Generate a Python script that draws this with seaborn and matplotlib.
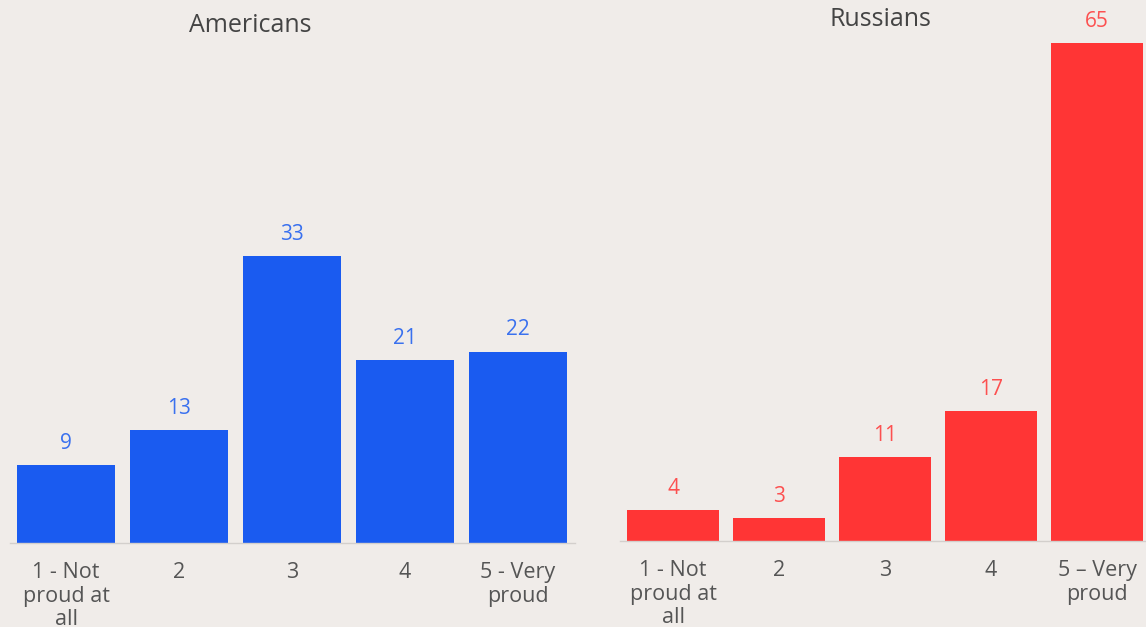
import matplotlib
matplotlib.use("Agg")
import matplotlib.pyplot as plt
import seaborn as sns
import pandas as pd

categories_us = ["1 - Not\nproud at\nall", "2", "3", "4", "5 - Very\nproud"]
categories_ru = ["1 - Not\nproud at\nall", "2", "3", "4", "5 – Very\nproud"]
americans = [9, 13, 33, 21, 22]
russians = [4, 3, 11, 17, 65]

BG = "#F0ECE9"
BLUE = "#1A5BF0"
RED = "#FF3535"

sns.set_theme(style="white")
plt.rcParams['font.family'] = ['Open Sans', 'DejaVu Sans']

W, H = 1146, 627
fig = plt.figure(figsize=(W / 100, H / 100), dpi=100, facecolor=BG)

def axes_px(left, right, top, bottom):
    return fig.add_axes([left / W, 1 - bottom / H, (right - left) / W, (bottom - top) / H])

ax1 = axes_px(9.5, 574.5, 40, 543)
ax2 = axes_px(620, 1150, 40, 541)

def draw(ax, cats, vals, color, width, ymax, title, tx, ty):
    df = pd.DataFrame({"cat": cats, "val": vals})
    sns.barplot(data=df, x="cat", y="val", color=color, saturation=1, width=width,
                linewidth=0, edgecolor="none", ax=ax)
    ax.set_facecolor(BG)
    ax.set_xlim(-0.5, 4.5)
    ax.set_ylim(0, ymax)
    ax.set_xlabel("")
    ax.set_ylabel("")
    ax.set_yticks([])
    for s in ["top", "left", "right"]:
        ax.spines[s].set_visible(False)
    ax.spines["bottom"].set_color("#D3CFCC")
    ax.spines["bottom"].set_linewidth(1)
    ax.tick_params(axis="x", length=0, pad=14, labelsize=15.5, labelcolor="#555555")
    for lab in ax.get_xticklabels():
        lab.set_linespacing(1.15)
    for c in ax.containers:
        ax.bar_label(c, padding=8, fontsize=15, color=color, clip_on=False, alpha=0.85)
    fig.text(tx, 1 - ty / H, title, ha="center", va="center", fontsize=18, color="#444444")

draw(ax1, categories_us, americans, BLUE, 0.87, 503 / 8.70, "Americans", 250 / W, 26)
draw(ax2, categories_ru, russians, RED, 0.86, 501 / 7.66, "Russians", 880 / W, 20)

fig.savefig("out.png", dpi=100, facecolor=BG)
